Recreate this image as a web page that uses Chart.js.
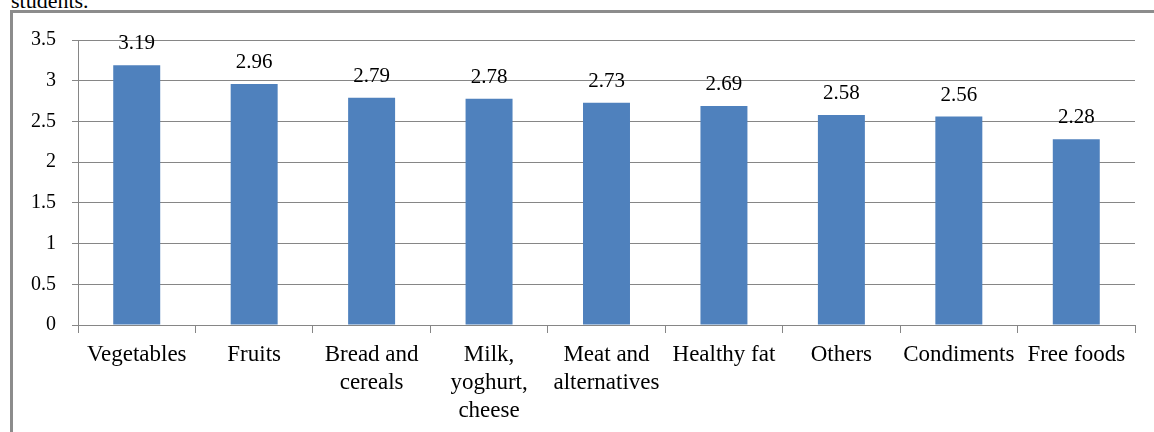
<!DOCTYPE html>
<html>
<head>
<meta charset="utf-8">
<script src="https://cdn.jsdelivr.net/npm/chart.js@4"></script>
<style>
  html, body { margin: 0; padding: 0; background: #fff; }
  #wrap { position: relative; width: 1154px; height: 432px; overflow: hidden; }
  #frame { position: absolute; left: 10px; top: 10px; width: 1200px; height: 500px;
           border-left: 3px solid #8c8c8c; border-top: 3px solid #8c8c8c; }
  #cap { position: absolute; left: 11px; top: -12px; font: 22px "Liberation Serif", serif; color: #000; }
  canvas { position: absolute; left: 0; top: 0; }
</style>
</head>
<body>
<div id="wrap">
  <div id="cap">students.</div>
  <div id="frame"></div>
  <canvas id="chart" width="1154" height="432"></canvas>
</div>
<script>
// categories and values
const categories = ['Vegetables', 'Fruits', ['Bread and', 'cereals'], ['Milk,', 'yoghurt,', 'cheese'],
  ['Meat and', 'alternatives'], 'Healthy fat', 'Others', 'Condiments', 'Free foods'];
const scores = [3.19, 2.96, 2.79, 2.78, 2.73, 2.69, 2.58, 2.56, 2.28];
const yTicks = [0, 0.5, 1, 1.5, 2, 2.5, 3, 3.5];

const FONT = '"Liberation Serif", "Times New Roman", serif';

// draws the value above each bar
const valueLabels = {
  id: 'valueLabels',
  afterDatasetsDraw(chart) {
    const ctx = chart.ctx;
    const meta = chart.getDatasetMeta(0);
    ctx.save();
    ctx.font = '21px ' + FONT;
    ctx.fillStyle = '#000';
    ctx.textAlign = 'center';
    ctx.textBaseline = 'alphabetic';
    meta.data.forEach((bar, i) => {
      ctx.fillText(scores[i].toFixed(2), bar.x, bar.y - 16);
    });
    ctx.restore();
  }
};

new Chart(document.getElementById('chart'), {
  type: 'bar',
  data: {
    labels: categories,
    datasets: [{
      data: scores,
      backgroundColor: '#4f81bd',
      categoryPercentage: 1,
      barPercentage: 0.4
    }]
  },
  options: {
    responsive: false,
    animation: false,
    layout: { padding: { top: 40, right: 19, left: 0, bottom: 0 } },
    plugins: { legend: { display: false }, tooltip: { enabled: false } },
    scales: {
      x: {
        afterFit(s) { s.height = 107; },
        border: { color: '#868686', width: 1 },
        grid: { offset: true, drawOnChartArea: false, tickLength: 8, color: '#868686' },
        ticks: {
          color: '#000', maxRotation: 0, autoSkip: false, padding: 8,
          font: { family: FONT, size: 23, lineHeight: 1.22 }
        }
      },
      y: {
        min: 0, max: 3.5,
        afterFit(s) { s.width = 78; },
        afterBuildTicks(s) { s.ticks = yTicks.map(v => ({ value: v })); },
        border: { color: '#868686', width: 1 },
        grid: { color: '#868686', tickLength: 6 },
        ticks: {
          color: '#000', padding: 16,
          font: { family: FONT, size: 20 },
          callback: v => String(v)
        }
      }
    }
  },
  plugins: [valueLabels]
});
</script>
</body>
</html>
